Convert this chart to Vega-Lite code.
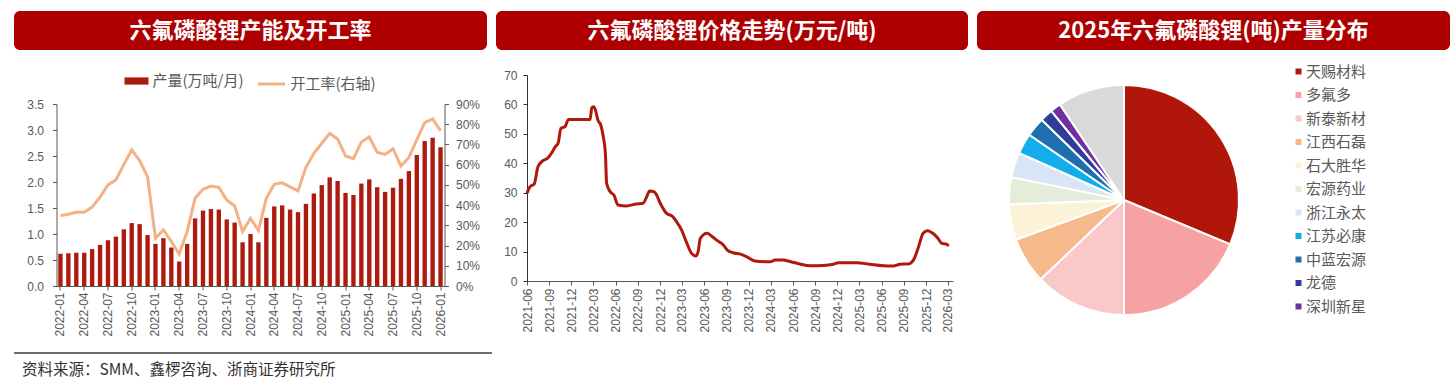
{
  "$schema": "https://vega.github.io/schema/vega-lite/v6.json",
  "padding": {"left": 14, "top": 11, "right": 0, "bottom": 0},
  "background": "white",
  "config": {
    "view": {"stroke": null},
    "font": "Noto Sans CJK SC",
    "axis": {"grid": false, "domainColor": "#595959", "tickColor": "#595959", "labelColor": "#595959", "labelFont": "Liberation Sans", "labelFontSize": 12, "tickSize": 4, "domainWidth": 1, "tickWidth": 1},
    "legend": {"labelFont": "Noto Sans CJK SC", "labelColor": "#595959", "layout": {"top": {"anchor": "middle", "margin": 12}}}
  },
  "spacing": 10,
  "resolve": {"legend": {"fill": "independent", "stroke": "independent", "color": "independent"}},
  "vconcat": [
    {
      "spacing": 9,
      "resolve": {"legend": {"fill": "independent", "stroke": "independent", "color": "independent"}},
      "hconcat": [
        {
          "spacing": 54,
          "center": true,
          "bounds": "flush",
          "resolve": {"legend": {"fill": "independent", "stroke": "independent", "color": "independent"}},
          "vconcat": [
            {
              "width": 473, "height": 39,
              "view": {"fill": "#AE0000", "stroke": null, "cornerRadius": 6},
              "data": {"values": [{"t": "六氟磷酸锂产能及开工率"}]},
              "mark": {"type": "text", "color": "white", "fontSize": 22, "fontWeight": "bold", "font": "Noto Sans CJK SC"},
              "encoding": {"text": {"field": "t"}}
            },
            {
              "width": 388, "height": 182,
              "data": {"values": [
                {"m": "2022-01", "prod": 0.62, "rate": 0.348},
                {"m": "2022-02", "prod": 0.63, "rate": 0.355},
                {"m": "2022-03", "prod": 0.64, "rate": 0.365},
                {"m": "2022-04", "prod": 0.64, "rate": 0.365},
                {"m": "2022-05", "prod": 0.71, "rate": 0.39},
                {"m": "2022-06", "prod": 0.79, "rate": 0.44},
                {"m": "2022-07", "prod": 0.88, "rate": 0.50},
                {"m": "2022-08", "prod": 0.95, "rate": 0.525},
                {"m": "2022-09", "prod": 1.09, "rate": 0.60},
                {"m": "2022-10", "prod": 1.21, "rate": 0.673},
                {"m": "2022-11", "prod": 1.19, "rate": 0.62},
                {"m": "2022-12", "prod": 0.98, "rate": 0.54},
                {"m": "2023-01", "prod": 0.81, "rate": 0.236},
                {"m": "2023-02", "prod": 0.92, "rate": 0.277},
                {"m": "2023-03", "prod": 0.74, "rate": 0.22},
                {"m": "2023-04", "prod": 0.47, "rate": 0.158},
                {"m": "2023-05", "prod": 0.81, "rate": 0.269},
                {"m": "2023-06", "prod": 1.30, "rate": 0.434},
                {"m": "2023-07", "prod": 1.45, "rate": 0.478},
                {"m": "2023-08", "prod": 1.48, "rate": 0.494},
                {"m": "2023-09", "prod": 1.47, "rate": 0.488},
                {"m": "2023-10", "prod": 1.28, "rate": 0.425},
                {"m": "2023-11", "prod": 1.22, "rate": 0.396},
                {"m": "2023-12", "prod": 0.84, "rate": 0.269},
                {"m": "2024-01", "prod": 1.00, "rate": 0.335},
                {"m": "2024-02", "prod": 0.84, "rate": 0.274},
                {"m": "2024-03", "prod": 1.31, "rate": 0.434},
                {"m": "2024-04", "prod": 1.53, "rate": 0.503},
                {"m": "2024-05", "prod": 1.55, "rate": 0.51},
                {"m": "2024-06", "prod": 1.47, "rate": 0.49},
                {"m": "2024-07", "prod": 1.42, "rate": 0.47},
                {"m": "2024-08", "prod": 1.58, "rate": 0.587},
                {"m": "2024-09", "prod": 1.78, "rate": 0.656},
                {"m": "2024-10", "prod": 1.94, "rate": 0.706},
                {"m": "2024-11", "prod": 2.09, "rate": 0.755},
                {"m": "2024-12", "prod": 2.02, "rate": 0.727},
                {"m": "2025-01", "prod": 1.79, "rate": 0.643},
                {"m": "2025-02", "prod": 1.75, "rate": 0.63},
                {"m": "2025-03", "prod": 1.97, "rate": 0.712},
                {"m": "2025-04", "prod": 2.05, "rate": 0.737},
                {"m": "2025-05", "prod": 1.90, "rate": 0.661},
                {"m": "2025-06", "prod": 1.81, "rate": 0.651},
                {"m": "2025-07", "prod": 1.89, "rate": 0.679},
                {"m": "2025-08", "prod": 2.06, "rate": 0.593},
                {"m": "2025-09", "prod": 2.21, "rate": 0.636},
                {"m": "2025-10", "prod": 2.52, "rate": 0.722},
                {"m": "2025-11", "prod": 2.79, "rate": 0.808},
                {"m": "2025-12", "prod": 2.85, "rate": 0.826},
                {"m": "2026-01", "prod": 2.67, "rate": 0.767}
              ]},
              "encoding": {
                "x": {
                  "field": "m", "type": "ordinal",
                  "scale": {"paddingInner": 0.45, "paddingOuter": 0.225},
                  "axis": {"title": null, "labelAngle": 270, "labelPadding": 2,
                    "values": ["2022-01","2022-04","2022-07","2022-10","2023-01","2023-04","2023-07","2023-10","2024-01","2024-04","2024-07","2024-10","2025-01","2025-04","2025-07","2025-10","2026-01"]}
                }
              },
              "layer": [
                {
                  "mark": {"type": "bar"},
                  "encoding": {
                    "y": {"field": "prod", "type": "quantitative", "scale": {"domain": [0, 3.5], "nice": false},
                      "axis": {"title": null, "values": [0, 0.5, 1, 1.5, 2, 2.5, 3, 3.5], "format": ".1f", "labelPadding": 9}},
                    "fill": {"datum": "产量(万吨/月)", "type": "nominal", "scale": {"range": ["#AD1A0E"]},
                      "legend": {"orient": "top", "title": null, "offset": 12, "symbolType": "M-1,-0.3H1V0.3H-1Z", "symbolSize": 576, "symbolStrokeWidth": 0, "labelFontSize": 15, "labelOffset": 4}}
                  }
                },
                {
                  "mark": {"type": "line", "strokeWidth": 3},
                  "encoding": {
                    "y": {"field": "rate", "type": "quantitative", "scale": {"domain": [0, 0.9], "nice": false},
                      "axis": {"title": null, "orient": "right", "values": [0, 0.1, 0.2, 0.3, 0.4, 0.5, 0.6, 0.7, 0.8, 0.9], "format": ".0%", "labelPadding": 7}},
                    "stroke": {"datum": "开工率(右轴)", "type": "nominal", "scale": {"range": ["#F4B183"]},
                      "legend": {"orient": "top", "title": null, "offset": 12, "symbolType": "stroke", "symbolSize": 729, "symbolStrokeWidth": 3, "labelFontSize": 15, "labelOffset": 4}}
                  }
                }
              ],
              "resolve": {"scale": {"y": "independent"}}
            }
          ]
        },
        {
          "spacing": 25,
          "bounds": "flush",
          "vconcat": [
            {
              "width": 472, "height": 39,
              "view": {"fill": "#AE0000", "stroke": null, "cornerRadius": 6},
              "data": {"values": [{"t": "六氟磷酸锂价格走势(万元/吨)"}]},
              "mark": {"type": "text", "color": "white", "fontSize": 22, "fontWeight": "bold", "font": "Noto Sans CJK SC"},
              "encoding": {"text": {"field": "t"}}
            },
            {
              "spacing": 0,
              "bounds": "flush",
              "hconcat": [
                {
                  "width": 31, "height": 206,
                  "data": {"values": [{"t": ""}]},
                  "mark": {"type": "text"},
                  "encoding": {"text": {"field": "t"}}
                },
                {
                  "width": 426, "height": 206,
                  "data": {"values": [
                    {"d": "2021-06-01", "p": 29.8},
                    {"d": "2021-06-13", "p": 32},
                    {"d": "2021-07-01", "p": 33},
                    {"d": "2021-07-16", "p": 38.8},
                    {"d": "2021-08-04", "p": 40.8},
                    {"d": "2021-08-24", "p": 41.7},
                    {"d": "2021-09-10", "p": 43.4},
                    {"d": "2021-09-25", "p": 45.6},
                    {"d": "2021-10-07", "p": 46.8},
                    {"d": "2021-10-19", "p": 51.9},
                    {"d": "2021-11-04", "p": 52.4},
                    {"d": "2021-11-19", "p": 54.9},
                    {"d": "2022-02-16", "p": 54.9},
                    {"d": "2022-02-23", "p": 58.9},
                    {"d": "2022-03-04", "p": 59.2},
                    {"d": "2022-03-10", "p": 58.1},
                    {"d": "2022-03-20", "p": 54.7},
                    {"d": "2022-04-01", "p": 53},
                    {"d": "2022-04-10", "p": 49.6},
                    {"d": "2022-04-20", "p": 43.4},
                    {"d": "2022-04-25", "p": 33.2},
                    {"d": "2022-05-10", "p": 30.3},
                    {"d": "2022-05-25", "p": 29.2},
                    {"d": "2022-06-11", "p": 25.8},
                    {"d": "2022-07-16", "p": 25.5},
                    {"d": "2022-08-26", "p": 26.2},
                    {"d": "2022-09-22", "p": 26.4},
                    {"d": "2022-10-07", "p": 28.6},
                    {"d": "2022-10-19", "p": 30.6},
                    {"d": "2022-11-07", "p": 30.3},
                    {"d": "2022-11-17", "p": 29.2},
                    {"d": "2022-12-01", "p": 26.6},
                    {"d": "2022-12-28", "p": 23},
                    {"d": "2023-01-19", "p": 22.1},
                    {"d": "2023-02-07", "p": 20.2},
                    {"d": "2023-02-28", "p": 17.3},
                    {"d": "2023-03-19", "p": 13.4},
                    {"d": "2023-04-10", "p": 9.4},
                    {"d": "2023-04-28", "p": 8.5},
                    {"d": "2023-05-07", "p": 10},
                    {"d": "2023-05-16", "p": 14.5},
                    {"d": "2023-06-13", "p": 16.2},
                    {"d": "2023-07-01", "p": 15.3},
                    {"d": "2023-07-22", "p": 13.9},
                    {"d": "2023-08-19", "p": 12.2},
                    {"d": "2023-09-04", "p": 10.5},
                    {"d": "2023-09-28", "p": 9.6},
                    {"d": "2023-10-25", "p": 9.2},
                    {"d": "2023-11-22", "p": 8.3},
                    {"d": "2023-12-27", "p": 6.8},
                    {"d": "2024-02-28", "p": 6.5},
                    {"d": "2024-03-19", "p": 7.1},
                    {"d": "2024-04-22", "p": 7.1},
                    {"d": "2024-05-19", "p": 6.6},
                    {"d": "2024-06-28", "p": 5.8},
                    {"d": "2024-08-10", "p": 5.2},
                    {"d": "2024-10-04", "p": 5.3},
                    {"d": "2024-11-13", "p": 5.7},
                    {"d": "2024-12-04", "p": 6.2},
                    {"d": "2025-02-19", "p": 6.2},
                    {"d": "2025-04-13", "p": 5.7},
                    {"d": "2025-06-07", "p": 5.2},
                    {"d": "2025-07-19", "p": 5.1},
                    {"d": "2025-08-16", "p": 5.7},
                    {"d": "2025-09-19", "p": 5.8},
                    {"d": "2025-10-10", "p": 7.1},
                    {"d": "2025-10-29", "p": 11.1},
                    {"d": "2025-11-19", "p": 16.2},
                    {"d": "2025-12-07", "p": 17.1},
                    {"d": "2025-12-29", "p": 16.2},
                    {"d": "2026-01-19", "p": 14.5},
                    {"d": "2026-02-04", "p": 12.8},
                    {"d": "2026-02-23", "p": 12.5},
                    {"d": "2026-03-04", "p": 11.9}
                  ]},
                  "mark": {"type": "line", "color": "#B0180C", "strokeWidth": 3, "interpolate": "monotone"},
                  "encoding": {
                    "x": {
                      "field": "d", "type": "temporal",
                      "scale": {"type": "utc", "nice": false, "domain": [{"year": 2021, "month": 6, "date": 1, "utc": true}, {"year": 2026, "month": 3, "date": 22, "utc": true}]},
                      "axis": {"title": null, "labelAngle": 270, "labelPadding": 3, "format": "%Y-%m", "labelFlush": false,
                        "values": [
                          {"year": 2021, "month": 6, "date": 1, "utc": true},
                          {"year": 2021, "month": 9, "date": 1, "utc": true},
                          {"year": 2021, "month": 12, "date": 1, "utc": true},
                          {"year": 2022, "month": 3, "date": 1, "utc": true},
                          {"year": 2022, "month": 6, "date": 1, "utc": true},
                          {"year": 2022, "month": 9, "date": 1, "utc": true},
                          {"year": 2022, "month": 12, "date": 1, "utc": true},
                          {"year": 2023, "month": 3, "date": 1, "utc": true},
                          {"year": 2023, "month": 6, "date": 1, "utc": true},
                          {"year": 2023, "month": 9, "date": 1, "utc": true},
                          {"year": 2023, "month": 12, "date": 1, "utc": true},
                          {"year": 2024, "month": 3, "date": 1, "utc": true},
                          {"year": 2024, "month": 6, "date": 1, "utc": true},
                          {"year": 2024, "month": 9, "date": 1, "utc": true},
                          {"year": 2024, "month": 12, "date": 1, "utc": true},
                          {"year": 2025, "month": 3, "date": 1, "utc": true},
                          {"year": 2025, "month": 6, "date": 1, "utc": true},
                          {"year": 2025, "month": 9, "date": 1, "utc": true},
                          {"year": 2025, "month": 12, "date": 1, "utc": true},
                          {"year": 2026, "month": 3, "date": 1, "utc": true}
                        ]}
                    },
                    "y": {"field": "p", "type": "quantitative", "scale": {"domain": [0, 70], "nice": false},
                      "axis": {"title": null, "values": [0, 10, 20, 30, 40, 50, 60, 70], "labelPadding": 6, "domainColor": "#333333", "tickColor": "#333333"}}
                  }
                }
              ]
            }
          ]
        },
        {
          "spacing": 14,
          "bounds": "flush",
          "resolve": {"legend": {"color": "independent"}},
          "vconcat": [
            {
              "width": 473, "height": 39,
              "view": {"fill": "#AE0000", "stroke": null, "cornerRadius": 6},
              "data": {"values": [{"t": "2025年六氟磷酸锂(吨)产量分布"}]},
              "mark": {"type": "text", "color": "white", "fontSize": 22, "fontWeight": "bold", "font": "Noto Sans CJK SC"},
              "encoding": {"text": {"field": "t"}}
            },
            {
              "width": 294, "height": 272,
              "data": {"values": [
                {"c": "天赐材料", "v": 31.3, "o": 1},
                {"c": "多氟多", "v": 18.7, "o": 2},
                {"c": "新泰新材", "v": 12.9, "o": 3},
                {"c": "江西石磊", "v": 6.5, "o": 4},
                {"c": "石大胜华", "v": 5.0, "o": 5},
                {"c": "宏源药业", "v": 3.8, "o": 6},
                {"c": "浙江永太", "v": 3.5, "o": 7},
                {"c": "江苏必康", "v": 2.9, "o": 8},
                {"c": "中蓝宏源", "v": 2.7, "o": 9},
                {"c": "龙德", "v": 1.8, "o": 10},
                {"c": "深圳新星", "v": 1.5, "o": 11},
                {"c": "其他", "v": 9.4, "o": 12}
              ]},
              "mark": {"type": "arc", "outerRadius": 115, "stroke": "white", "strokeWidth": 2},
              "encoding": {
                "theta": {"field": "v", "type": "quantitative", "stack": true},
                "order": {"field": "o", "type": "quantitative"},
                "color": {
                  "field": "c", "type": "nominal",
                  "scale": {
                    "domain": ["天赐材料","多氟多","新泰新材","江西石磊","石大胜华","宏源药业","浙江永太","江苏必康","中蓝宏源","龙德","深圳新星","其他"],
                    "range": ["#B0170A","#F6A2A2","#F9C9C9","#F6B98B","#FCF2D8","#E3EDDA","#D9E4F6","#13ADEB","#1E6FB0","#2D3E9A","#70309F","#D9D9D9"]
                  },
                  "legend": {
                    "title": null, "orient": "right", "offset": 20,
                    "values": ["天赐材料","多氟多","新泰新材","江西石磊","石大胜华","宏源药业","浙江永太","江苏必康","中蓝宏源","龙德","深圳新星"],
                    "symbolType": "square", "symbolSize": 36, "symbolStrokeWidth": 0,
                    "labelFontSize": 15, "labelOffset": 0, "rowPadding": 7.5
                  }
                }
              }
            }
          ]
        }
      ]
    },
    {
      "width": 478, "height": 2,
      "view": {"fill": "#6E6E6E", "stroke": null},
      "data": {"values": [{"t": ""}]},
      "mark": {"type": "text"},
      "encoding": {"text": {"field": "t"}},
      "title": {"text": "资料来源：SMM、鑫椤咨询、浙商证券研究所", "orient": "bottom", "anchor": "start", "fontSize": 15.5, "fontWeight": "normal", "color": "#333333", "font": "Noto Sans CJK SC", "offset": 5, "dx": 8}
    }
  ]
}
